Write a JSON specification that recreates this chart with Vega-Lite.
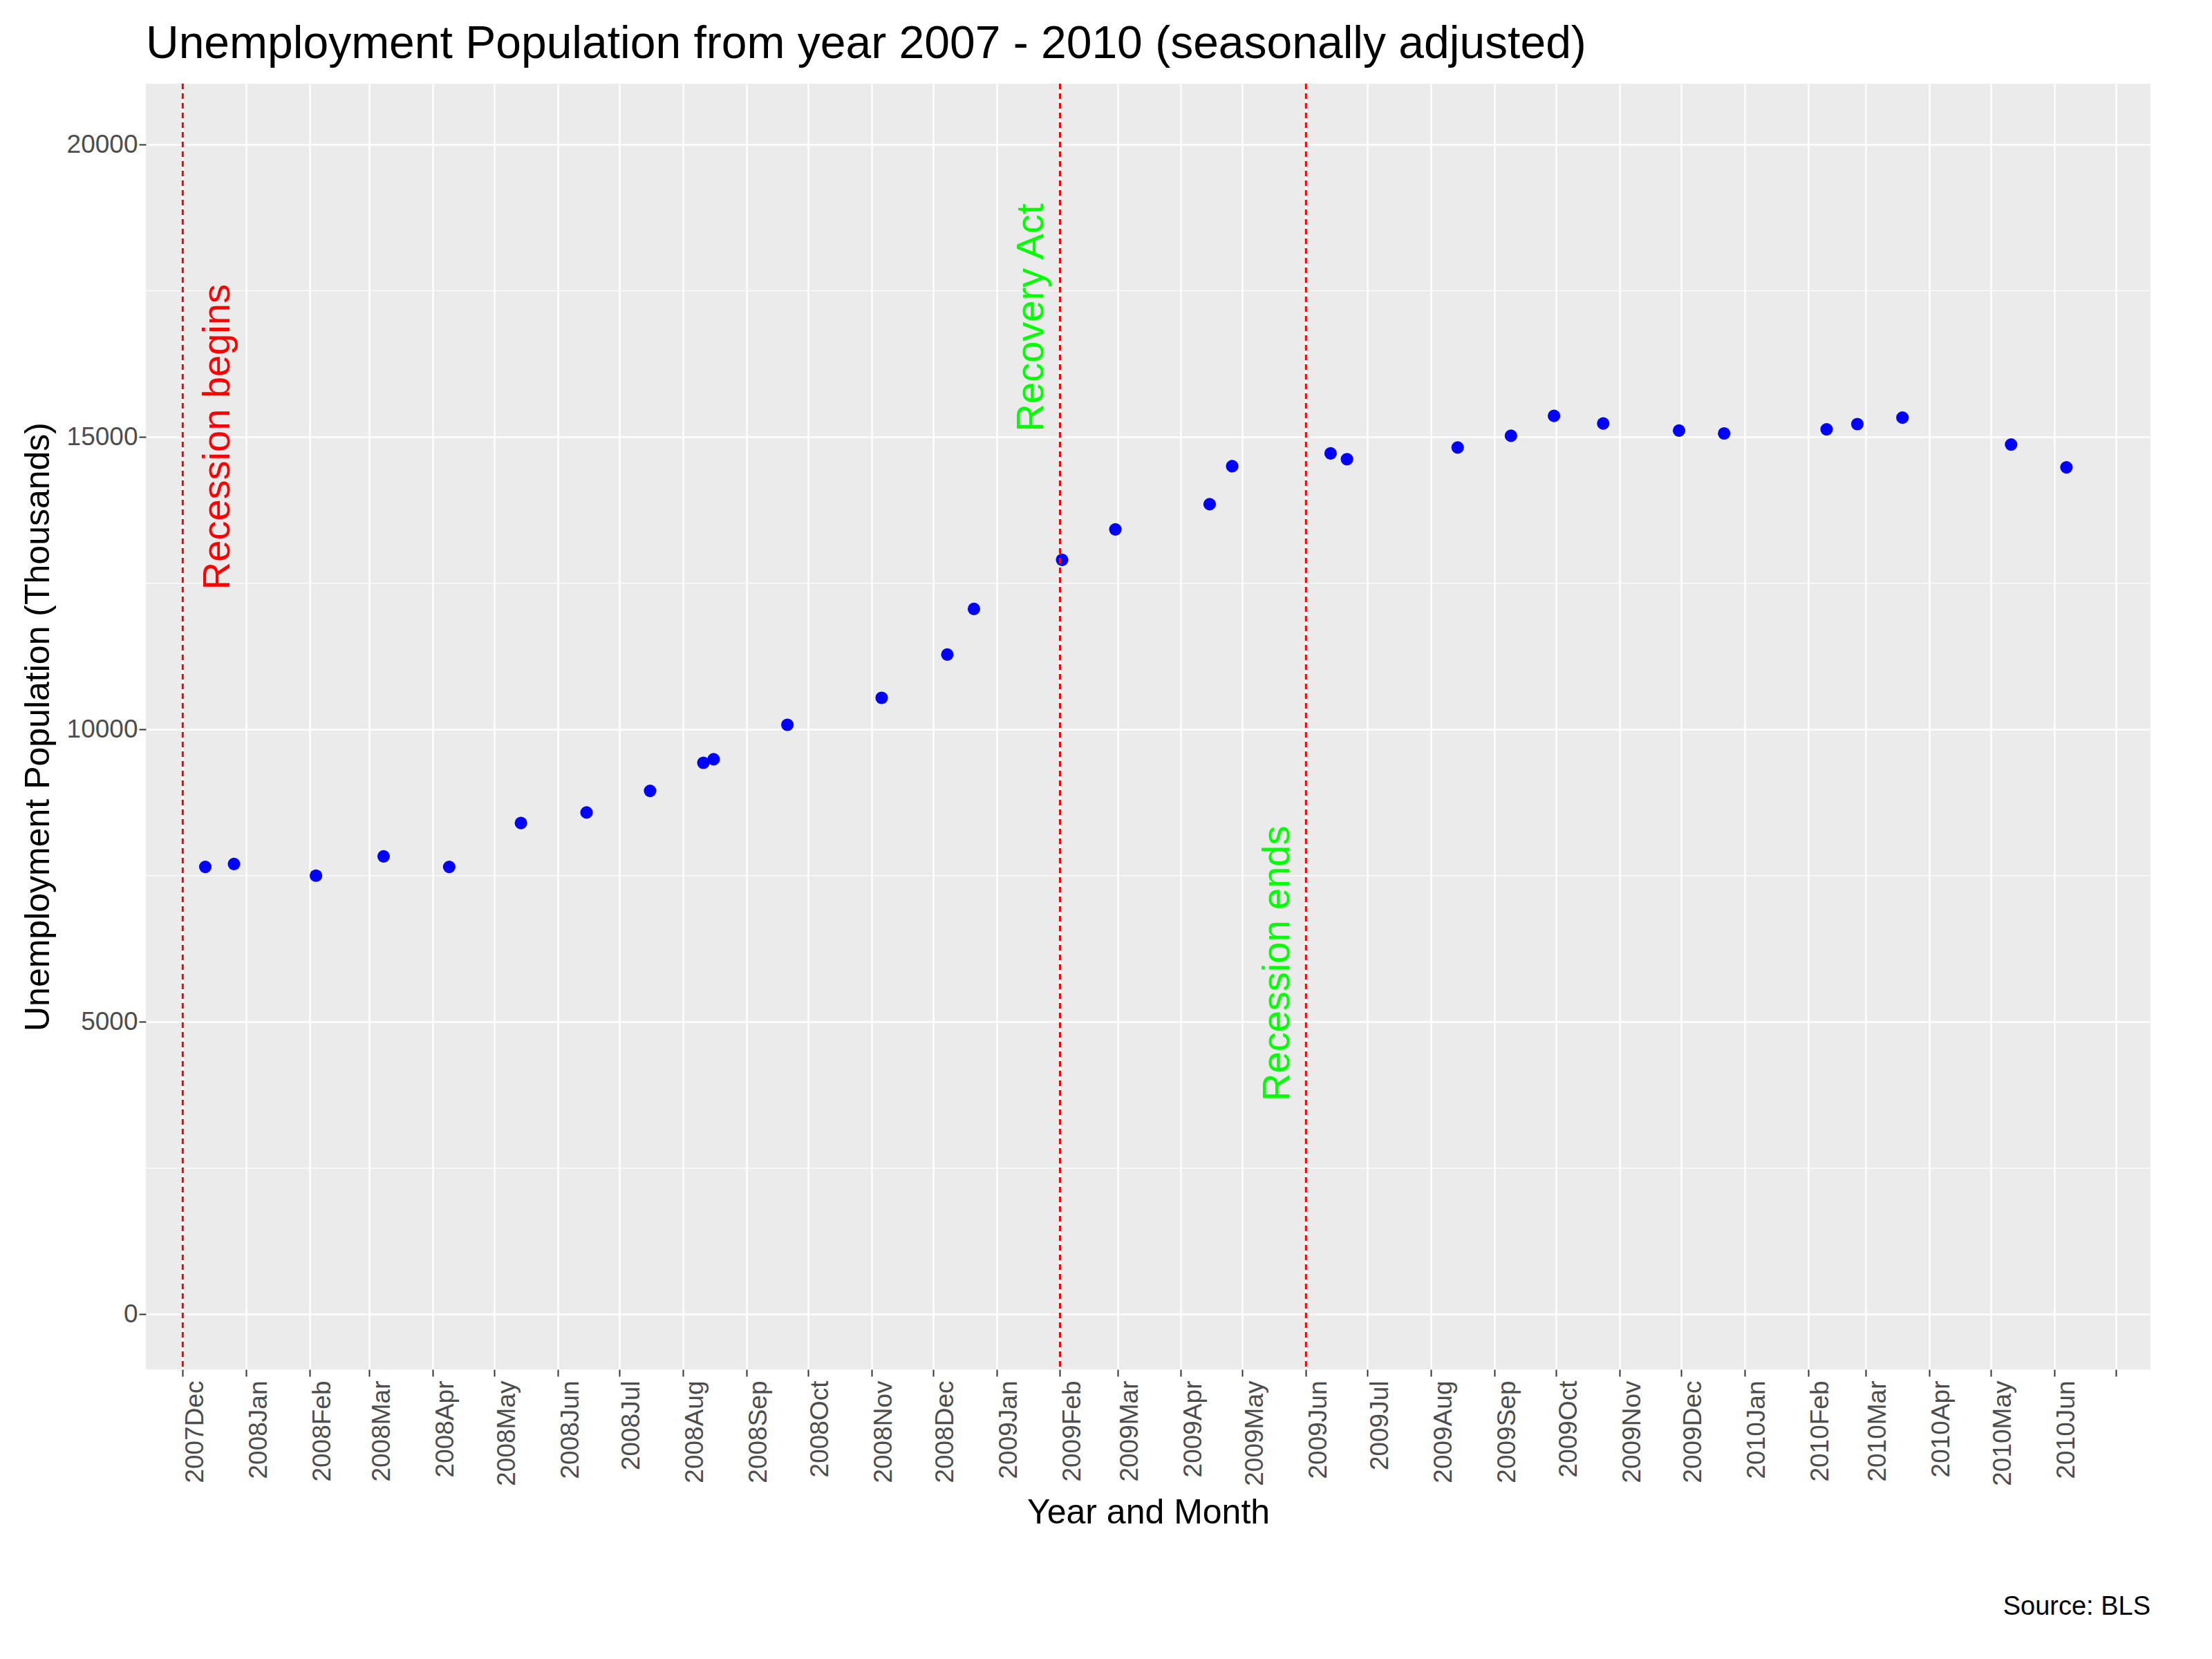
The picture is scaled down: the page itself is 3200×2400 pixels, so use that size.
{
  "$schema": "https://vega.github.io/schema/vega-lite/v6.json",
  "width": 2900,
  "height": 1860,
  "padding": {"left": 30, "top": 30, "right": 30, "bottom": 10},
  "background": "white",
  "config": {
    "font": "Liberation Sans",
    "view": {"fill": "#EBEBEB", "stroke": null},
    "axis": {"gridColor": "white", "gridWidth": 2.5, "domain": false, "tickColor": "#333333", "tickSize": 10, "tickWidth": 2, "labelColor": "#4D4D4D", "labelFontSize": 37, "titleFontSize": 50, "titleFontWeight": "normal", "titleColor": "black"}
  },
  "title": {"text": "Unemployment Population from year 2007 - 2010 (seasonally adjusted)", "anchor": "start", "frame": "group", "fontSize": 66, "fontWeight": "normal", "offset": 22},
  "datasets": {
    "pts": [
      {"date": "2007-12-12", "value": 7650},
      {"date": "2007-12-26", "value": 7700},
      {"date": "2008-02-04", "value": 7500},
      {"date": "2008-03-08", "value": 7830},
      {"date": "2008-04-09", "value": 7650},
      {"date": "2008-05-14", "value": 8400},
      {"date": "2008-06-15", "value": 8580},
      {"date": "2008-07-16", "value": 8950},
      {"date": "2008-08-11", "value": 9430},
      {"date": "2008-08-16", "value": 9490},
      {"date": "2008-09-21", "value": 10080},
      {"date": "2008-11-06", "value": 10540},
      {"date": "2008-12-08", "value": 11280},
      {"date": "2008-12-21", "value": 12060},
      {"date": "2009-02-02", "value": 12900},
      {"date": "2009-02-28", "value": 13420},
      {"date": "2009-04-15", "value": 13850},
      {"date": "2009-04-26", "value": 14500},
      {"date": "2009-06-13", "value": 14720},
      {"date": "2009-06-21", "value": 14620},
      {"date": "2009-08-14", "value": 14820},
      {"date": "2009-09-09", "value": 15020},
      {"date": "2009-09-30", "value": 15360},
      {"date": "2009-10-24", "value": 15230},
      {"date": "2009-11-30", "value": 15110},
      {"date": "2009-12-22", "value": 15060},
      {"date": "2010-02-10", "value": 15130},
      {"date": "2010-02-25", "value": 15220},
      {"date": "2010-03-19", "value": 15330},
      {"date": "2010-05-11", "value": 14870},
      {"date": "2010-06-07", "value": 14480}
    ],
    "events": [
      {"date": "2007-12-01", "tdate": "2007-12-18", "ty": 15000, "label": "Recession begins", "color": "red"},
      {"date": "2009-02-01", "tdate": "2009-01-18", "ty": 17040, "label": "Recovery Act", "color": "#00FF00"},
      {"date": "2009-06-01", "tdate": "2009-05-18", "ty": 6000, "label": "Recession ends", "color": "#00FF00"}
    ],
    "minor": [{"v": 2500}, {"v": 7500}, {"v": 12500}, {"v": 17500}],
    "caption": [{"date": "2010-07-18", "value": -5000, "text": "Source: BLS"}]
  },
  "layer": [
    {
      "data": {"name": "minor"},
      "mark": {"type": "rule", "color": "white", "strokeWidth": 1.2},
      "encoding": {"y": {"field": "v", "type": "quantitative"}}
    },
    {
      "data": {"name": "pts"},
      "mark": {"type": "circle", "color": "blue", "opacity": 1, "size": 330},
      "encoding": {
        "x": {
          "field": "date", "type": "temporal",
          "scale": {"type": "utc", "domain": [{"year": 2007, "month": 11, "date": 13, "utc": true}, {"year": 2010, "month": 7, "date": 18, "utc": true}]},
          "title": "Year and Month",
          "axis": {
            "values": [
              {"year": 2007, "month": 12, "date": 1, "utc": true},
              {"year": 2008, "month": 1, "date": 1, "utc": true},
              {"year": 2008, "month": 2, "date": 1, "utc": true},
              {"year": 2008, "month": 3, "date": 1, "utc": true},
              {"year": 2008, "month": 4, "date": 1, "utc": true},
              {"year": 2008, "month": 5, "date": 1, "utc": true},
              {"year": 2008, "month": 6, "date": 1, "utc": true},
              {"year": 2008, "month": 7, "date": 1, "utc": true},
              {"year": 2008, "month": 8, "date": 1, "utc": true},
              {"year": 2008, "month": 9, "date": 1, "utc": true},
              {"year": 2008, "month": 10, "date": 1, "utc": true},
              {"year": 2008, "month": 11, "date": 1, "utc": true},
              {"year": 2008, "month": 12, "date": 1, "utc": true},
              {"year": 2009, "month": 1, "date": 1, "utc": true},
              {"year": 2009, "month": 2, "date": 1, "utc": true},
              {"year": 2009, "month": 3, "date": 1, "utc": true},
              {"year": 2009, "month": 4, "date": 1, "utc": true},
              {"year": 2009, "month": 5, "date": 1, "utc": true},
              {"year": 2009, "month": 6, "date": 1, "utc": true},
              {"year": 2009, "month": 7, "date": 1, "utc": true},
              {"year": 2009, "month": 8, "date": 1, "utc": true},
              {"year": 2009, "month": 9, "date": 1, "utc": true},
              {"year": 2009, "month": 10, "date": 1, "utc": true},
              {"year": 2009, "month": 11, "date": 1, "utc": true},
              {"year": 2009, "month": 12, "date": 1, "utc": true},
              {"year": 2010, "month": 1, "date": 1, "utc": true},
              {"year": 2010, "month": 2, "date": 1, "utc": true},
              {"year": 2010, "month": 3, "date": 1, "utc": true},
              {"year": 2010, "month": 4, "date": 1, "utc": true},
              {"year": 2010, "month": 5, "date": 1, "utc": true},
              {"year": 2010, "month": 6, "date": 1, "utc": true},
              {"year": 2010, "month": 7, "date": 1, "utc": true}
            ],
            "labelExpr": "utcyear(datum.value) == 2010 && utcmonth(datum.value) == 6 ? '' : utcFormat(datum.value, '%Y%b')",
            "labelAngle": 270, "labelAlign": "right", "labelBaseline": "top", "labelPadding": 6, "titlePadding": 14
          }
        },
        "y": {
          "field": "value", "type": "quantitative",
          "scale": {"domain": [-940, 21040], "nice": false, "zero": false},
          "title": "Unemployment Population (Thousands)",
          "axis": {"values": [0, 5000, 10000, 15000, 20000], "format": "d", "titlePadding": 16}
        }
      }
    },
    {
      "data": {"name": "events"},
      "mark": {"type": "rule", "strokeDash": [8, 6], "strokeWidth": 3, "color": "red"},
      "encoding": {"x": {"field": "date", "type": "temporal"}}
    },
    {
      "data": {"name": "events"},
      "mark": {"type": "text", "angle": 270, "align": "center", "baseline": "middle", "fontSize": 56},
      "encoding": {
        "x": {"field": "tdate", "type": "temporal"},
        "y": {"field": "ty", "type": "quantitative"},
        "text": {"field": "label"},
        "color": {"field": "color", "type": "nominal", "scale": null}
      }
    },
    {
      "data": {"name": "caption"},
      "mark": {"type": "text", "align": "right", "baseline": "middle", "fontSize": 38, "clip": false},
      "encoding": {
        "x": {"field": "date", "type": "temporal"},
        "y": {"field": "value", "type": "quantitative"},
        "text": {"field": "text"}
      }
    }
  ]
}
